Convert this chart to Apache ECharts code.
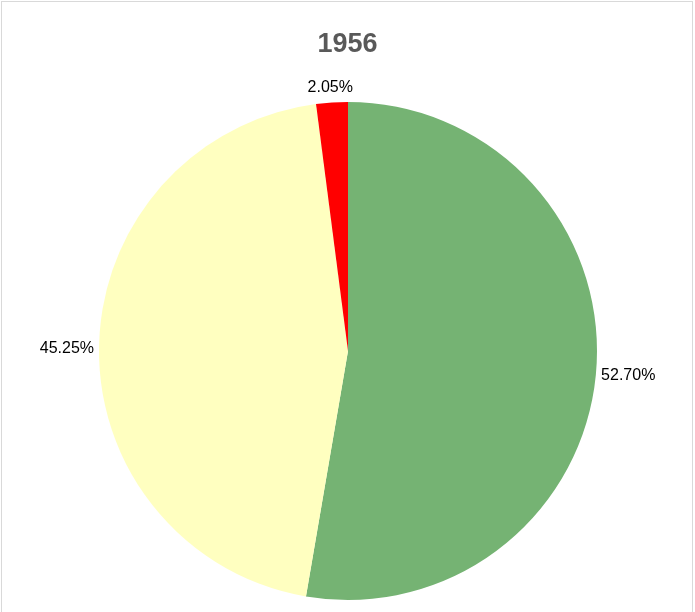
<!DOCTYPE html>
<html>
<head>
<meta charset="utf-8">
<script src="https://cdn.jsdelivr.net/npm/echarts@6/dist/echarts.min.js"></script>
<style>
html,body{margin:0;padding:0;background:#fff;overflow:hidden;}
#frame{position:absolute;left:1px;top:1px;width:692px;height:640px;border:1px solid #d9d9d9;box-sizing:border-box;pointer-events:none;}
#chart{position:absolute;left:0;top:0;width:695px;height:612px;}
</style>
</head>
<body>
<div id="chart"></div>
<div id="frame"></div>
<script>
const title = '1956';
const categories = ['Green', 'Yellow', 'Red'];
const values = [52.70, 45.25, 2.05];
const labels = ['52.70%', '45.25%', '2.05%'];
const colors = ['#75B373', '#FFFFC0', '#FF0000'];

const chart = echarts.init(document.getElementById('chart'));
chart.setOption({
  animation: false,
  backgroundColor: '#ffffff',
  title: {
    text: title,
    left: 'center',
    top: 26,
    textStyle: {fontFamily: 'Liberation Sans', fontSize: 27, fontWeight: 'bold', color: '#595959'}
  },
  series: [{
    type: 'pie',
    center: [348, 351],
    radius: 249,
    startAngle: 90,
    clockwise: true,
    avoidLabelOverlap: false,
    data: categories.map((c, i) => ({name: c, value: values[i], itemStyle: {color: colors[i]}, label: {formatter: labels[i]}})),
    label: {
      show: true,
      position: 'outside',
      fontFamily: 'Liberation Sans',
      fontSize: 16,
      color: '#000'
    },
    labelLine: {show: false, length: 0, length2: 0},
    labelLayout: function (p) {
      if (p.dataIndex === 2) return {dx: 26, dy: -15};
      return {dy: 3};
    },
    emphasis: {disabled: true}
  }]
});
</script>
</body>
</html>
